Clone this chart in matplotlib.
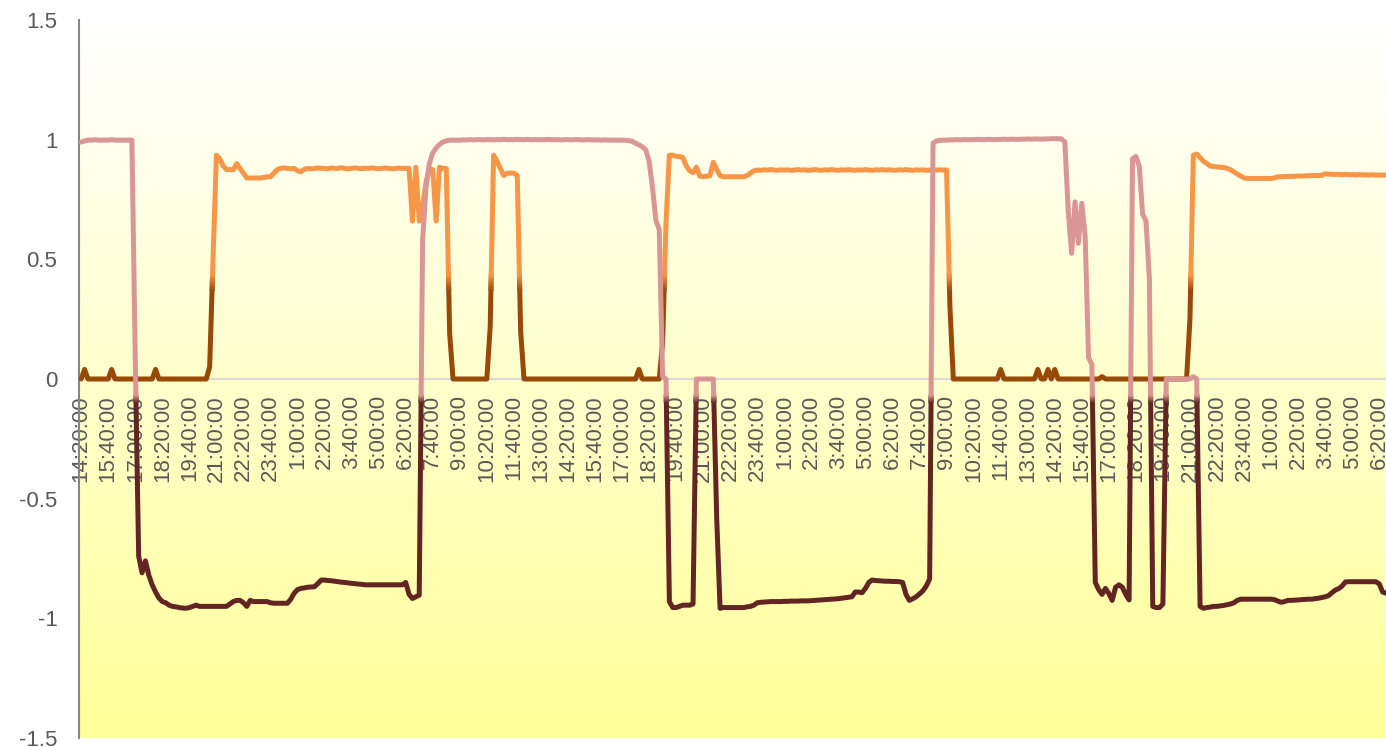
import numpy as np
import matplotlib
matplotlib.use('Agg')
import matplotlib.pyplot as plt
from matplotlib.colors import to_rgb, LinearSegmentedColormap
from matplotlib.patches import Rectangle

# readings every 10 min, one row per 80 min tick
orange = [
    0, 0.04, 0, 0, 0, 0, 0, 0,
    0, 0.04, 0, 0, 0, 0, 0, 0,
    0, 0, 0, 0, 0, 0, 0.04, 0,
    0, 0, 0, 0, 0, 0, 0, 0,
    0, 0, 0, 0, 0, 0, 0.05, 0.5,
    0.935, 0.92, 0.89, 0.875, 0.875, 0.875, 0.90, 0.88,
    0.86, 0.84, 0.84, 0.84, 0.84, 0.84, 0.842, 0.845,
    0.845, 0.86, 0.875, 0.88, 0.882, 0.88, 0.878, 0.88,
    0.87, 0.866, 0.876, 0.88, 0.878, 0.88, 0.882, 0.88,
    0.88, 0.878, 0.882, 0.88, 0.88, 0.883, 0.88, 0.878,
    0.88, 0.882, 0.88, 0.879, 0.881, 0.88, 0.882, 0.88,
    0.879, 0.88, 0.882, 0.88, 0.878, 0.88, 0.881, 0.88,
    0.88, 0.88, 0.66, 0.885, 0.66, 0.72, 0.82, 0.88,
    0.875, 0.66, 0.885, 0.88, 0.88, 0.19, 0, 0,
    0, 0, 0, 0, 0, 0, 0, 0,
    0, 0.22, 0.935, 0.91, 0.88, 0.85, 0.86, 0.86,
    0.86, 0.85, 0.2, 0, 0, 0, 0, 0,
    0, 0, 0, 0, 0, 0, 0, 0,
    0, 0, 0, 0, 0, 0, 0, 0,
    0, 0, 0, 0, 0, 0, 0, 0,
    0, 0, 0, 0, 0, 0.04, 0, 0,
    0, 0, 0, 0, 0.15, 0.65, 0.935, 0.935,
    0.93, 0.93, 0.925, 0.89, 0.87, 0.862, 0.885, 0.848,
    0.845, 0.847, 0.85, 0.905, 0.875, 0.85, 0.845, 0.845,
    0.845, 0.845, 0.845, 0.845, 0.845, 0.85, 0.86, 0.87,
    0.873, 0.872, 0.874, 0.873, 0.875, 0.873, 0.872, 0.874,
    0.873, 0.874, 0.872, 0.873, 0.875, 0.873, 0.874, 0.872,
    0.873, 0.875, 0.873, 0.872, 0.874, 0.873, 0.875, 0.873,
    0.872, 0.874, 0.873, 0.875, 0.873, 0.872, 0.874, 0.873,
    0.875, 0.873, 0.872, 0.874, 0.873, 0.875, 0.873, 0.874,
    0.873, 0.872, 0.874, 0.873, 0.875, 0.873, 0.872, 0.874,
    0.873, 0.874, 0.872, 0.873, 0.875, 0.873, 0.874, 0.873,
    0.873, 0.3, 0, 0, 0, 0, 0, 0,
    0, 0, 0, 0, 0, 0, 0, 0,
    0.04, 0, 0, 0, 0, 0, 0, 0,
    0, 0, 0, 0.04, 0, 0, 0.04, 0,
    0.04, 0, 0, 0, 0, 0, 0, 0,
    0, 0, 0, 0, 0, 0, 0.01, 0,
    0, 0, 0, 0, 0, 0, 0, 0,
    0, 0, 0, 0, 0, 0, 0, 0,
    0, 0, 0, 0, 0, 0, 0, 0,
    0.25, 0.935, 0.94, 0.925, 0.91, 0.9, 0.89, 0.888,
    0.886, 0.885, 0.884, 0.88, 0.875, 0.865, 0.857, 0.848,
    0.84, 0.838, 0.838, 0.838, 0.838, 0.838, 0.838, 0.838,
    0.838, 0.84, 0.845, 0.845, 0.846, 0.846, 0.847, 0.847,
    0.848, 0.848, 0.849, 0.849, 0.85, 0.85, 0.85, 0.851,
    0.857, 0.856, 0.855, 0.855, 0.855, 0.854, 0.855, 0.854,
    0.854, 0.853, 0.854, 0.853, 0.853, 0.852, 0.853, 0.852,
    0.852, 0.852, 0.852,
]

pink = [
    0.99, 0.995, 0.998, 0.998, 1.0, 0.998, 0.998, 0.998,
    0.998, 1.0, 0.998, 0.998, 0.998, 0.998, 0.998, 0.998,
    0.08, -0.74, -0.81, -0.76, -0.82, -0.86, -0.89, -0.915,
    -0.93, -0.935, -0.945, -0.95, -0.952, -0.955, -0.957, -0.958,
    -0.955, -0.95, -0.945, -0.95, -0.95, -0.95, -0.95, -0.95,
    -0.95, -0.95, -0.95, -0.95, -0.94, -0.93, -0.925, -0.925,
    -0.935, -0.95, -0.925, -0.93, -0.93, -0.93, -0.93, -0.93,
    -0.935, -0.937, -0.937, -0.937, -0.937, -0.937, -0.92, -0.895,
    -0.88, -0.875, -0.873, -0.87, -0.869, -0.868, -0.855, -0.84,
    -0.84, -0.842, -0.843, -0.845, -0.847, -0.849, -0.85, -0.852,
    -0.854, -0.855, -0.857, -0.858, -0.86, -0.86, -0.86, -0.86,
    -0.86, -0.86, -0.86, -0.86, -0.86, -0.86, -0.86, -0.86,
    -0.85, -0.90, -0.917, -0.91, -0.903, 0.58, 0.80, 0.90,
    0.945, 0.965, 0.98, 0.99, 0.995, 0.998, 0.998, 0.998,
    0.998, 0.999, 0.999, 1.0, 0.999, 1.0, 1.0, 0.999,
    1.0, 1.0, 0.999, 1.0, 1.0, 1.001, 1.0, 1.0,
    1.0, 1.001, 1.0, 1.0, 1.001, 1.0, 1.0, 1.0,
    1.0, 1.0, 1.001, 1.0, 1.0, 1.0, 0.999, 1.0,
    1.0, 0.999, 1.0, 1.0, 0.999, 0.999, 1.0, 0.999,
    0.999, 0.999, 0.998, 0.999, 0.998, 0.998, 0.998, 0.998,
    0.998, 0.997, 0.996, 0.993, 0.985, 0.978, 0.97, 0.958,
    0.91, 0.80, 0.665, 0.625, 0.01, 0.0, -0.93, -0.955,
    -0.955, -0.95, -0.945, -0.945, -0.945, -0.94, 0.0, 0.0,
    0.0, 0.0, 0.0, 0.0, -0.58, -0.958, -0.955, -0.955,
    -0.955, -0.955, -0.955, -0.955, -0.955, -0.952, -0.95, -0.945,
    -0.935, -0.933, -0.932, -0.931, -0.93, -0.93, -0.93, -0.93,
    -0.929, -0.929, -0.928, -0.928, -0.928, -0.927, -0.927, -0.927,
    -0.926, -0.925, -0.924, -0.923, -0.922, -0.921, -0.92, -0.919,
    -0.918, -0.916, -0.914, -0.912, -0.91, -0.89, -0.89, -0.893,
    -0.875, -0.85, -0.84, -0.842, -0.843, -0.844, -0.845, -0.845,
    -0.846, -0.846, -0.847, -0.85, -0.90, -0.925, -0.918, -0.91,
    -0.898, -0.885, -0.865, -0.835, 0.985, 0.995, 0.997, 0.998,
    0.998, 0.999, 0.999, 1.0, 0.999, 1.0, 1.0, 1.0,
    1.0, 1.001, 1.0, 1.0, 1.001, 1.001, 1.0, 1.001,
    1.001, 1.002, 1.001, 1.002, 1.002, 1.001, 1.002, 1.002,
    1.003, 1.002, 1.003, 1.003, 1.002, 1.003, 1.003, 1.004,
    1.004, 1.004, 1.003, 0.99, 0.70, 0.525, 0.74, 0.567,
    0.734, 0.60, 0.09, 0.06, -0.85, -0.88, -0.90, -0.875,
    -0.896, -0.925, -0.87, -0.86, -0.87, -0.90, -0.923, 0.92,
    0.93, 0.89, 0.69, 0.66, 0.42, -0.95, -0.955, -0.955,
    -0.94, 0, 0, 0, 0, 0, 0, 0,
    0, 0.01, 0, -0.95, -0.958, -0.955, -0.953, -0.95,
    -0.95, -0.948, -0.946, -0.943, -0.94, -0.935, -0.925, -0.92,
    -0.92, -0.92, -0.92, -0.92, -0.92, -0.92, -0.92, -0.92,
    -0.92, -0.922, -0.928, -0.933, -0.93, -0.925, -0.925, -0.924,
    -0.923, -0.922, -0.921, -0.92, -0.92, -0.918, -0.916, -0.913,
    -0.91, -0.905, -0.893, -0.882, -0.876, -0.865, -0.848, -0.847,
    -0.847, -0.847, -0.847, -0.847, -0.847, -0.847, -0.847, -0.847,
    -0.856, -0.89, -0.895,
]

tick_labels = [
    '14:20:00', '15:40:00', '17:00:00', '18:20:00', '19:40:00', '21:00:00',
    '22:20:00', '23:40:00', '1:00:00', '2:20:00', '3:40:00', '5:00:00',
    '6:20:00', '7:40:00', '9:00:00', '10:20:00', '11:40:00', '13:00:00',
    '14:20:00', '15:40:00', '17:00:00', '18:20:00', '19:40:00', '21:00:00',
    '22:20:00', '23:40:00', '1:00:00', '2:20:00', '3:40:00', '5:00:00',
    '6:20:00', '7:40:00', '9:00:00', '10:20:00', '11:40:00', '13:00:00',
    '14:20:00', '15:40:00', '17:00:00', '18:20:00', '19:40:00', '21:00:00',
    '22:20:00', '23:40:00', '1:00:00', '2:20:00', '3:40:00', '5:00:00',
    '6:20:00',
]
y_ticks = [-1.5, -1, -0.5, 0, 0.5, 1, 1.5]
y_tick_labels = ['-1.5', '-1', '-0.5', '0', '0.5', '1', '1.5']

plt.rcParams['font.family'] = ['Liberation Sans', 'DejaVu Sans']

X0, X1 = -0.65, 386.0
Y0, Y1 = -1.5, 1.5


def gradient_line(ax, y, hi, lo, y_lo, y_hi, steps=8, zorder=3):
    # line colour follows its value: lo below y_lo, hi above y_hi, blended between
    x = np.arange(len(y))
    c_hi, c_lo = np.array(to_rgb(hi)), np.array(to_rgb(lo))
    edges = [Y0 - 0.1] + list(np.linspace(y_lo, y_hi, steps + 1)) + [Y1 + 0.1]
    for k in range(len(edges) - 1):
        t = np.clip((k - 0.5) / steps, 0, 1)
        col = c_lo + (c_hi - c_lo) * t
        ln, = ax.plot(x, y, color=col, lw=3.6, solid_joinstyle='round',
                      solid_capstyle='round', zorder=zorder)
        b0, b1 = edges[k] - 0.004, edges[k + 1] + 0.004
        ln.set_clip_path(Rectangle((X0, b0), X1 - X0, b1 - b0, transform=ax.transData))


fig = plt.figure(figsize=(13.86, 7.47), dpi=100)
ax = fig.add_axes([79 / 1386, 9 / 747, 1307 / 1386, 718 / 747])

# white to pale yellow fill of the plot area
bg = LinearSegmentedColormap.from_list('bg', ['#FFFF99', '#FFFFFF'])
ax.imshow(np.linspace(0, 1, 256)[:, None], cmap=bg, origin='lower', aspect='auto',
          extent=(0, 1, 0, 1), transform=ax.transAxes, zorder=0)

gradient_line(ax, orange, '#F79646', '#984807', 0.37, 0.44, zorder=3)
gradient_line(ax, pink, '#D99694', '#632523', -0.095, -0.065, zorder=4)

ax.set_xlim(X0, X1)
ax.set_ylim(Y0, Y1)

ax.set_xticks(np.arange(0, len(orange), 8))
ax.set_xticklabels(tick_labels)
ax.set_yticks(y_ticks)
ax.set_yticklabels(y_tick_labels)
ax.tick_params(axis='x', length=0, pad=11.5, labelsize=16, labelcolor='#595959',
               labelrotation=90)
ax.tick_params(axis='y', length=0, pad=15.5, labelsize=16, labelcolor='#595959')

for side in ['top', 'right']:
    ax.spines[side].set_visible(False)
ax.spines['left'].set_color('#868686')
ax.spines['left'].set_linewidth(1.5)
ax.spines['bottom'].set_position(('data', 0))
ax.spines['bottom'].set_color('#D9D9D9')
ax.spines['bottom'].set_linewidth(1.5)
ax.spines['bottom'].set_zorder(1)

fig.savefig('out.png', dpi=100)
plt.close(fig)
